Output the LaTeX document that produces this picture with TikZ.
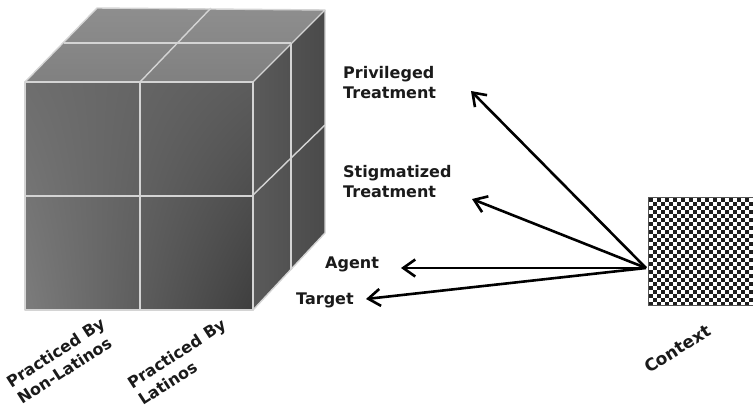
\documentclass[tikz,border=0pt]{standalone}
\usepackage{fontspec}
\setmainfont{DejaVu Sans}
\usetikzlibrary{arrows.meta,calc,shadings}
\definecolor{gridline}{HTML}{D4D4D4}
\definecolor{txt}{HTML}{1A1A1A}
\definecolor{chk}{HTML}{1E1E1E}
\definecolor{chkborder}{HTML}{555555}
\definecolor{fUL}{HTML}{6E6E6E}
\definecolor{fUR}{HTML}{5C5C5C}
\definecolor{fLL}{HTML}{7C7C7C}
\definecolor{fLR}{HTML}{3E3E3E}
\definecolor{tTop}{HTML}{8E8E8E}
\definecolor{tBot}{HTML}{808080}
\definecolor{rL}{HTML}{5A5A5A}
\definecolor{rR}{HTML}{4A4A4A}
\begin{document}
\begin{tikzpicture}[x=1pt,y=-1pt,
  lbl/.style={font=\bfseries\fontsize{16}{20}\selectfont, text=txt, inner sep=0pt, align=left},
  arr/.style={line width=2.6pt, -{Straight Barb[length=12pt,width=17pt]}},
  gridl/.style={draw=gridline, line width=1.4pt, line join=round}]
\useasboundingbox (0,0) rectangle (753,410);

% cube faces
\shade[upper left=fUL, upper right=fUR, lower left=fLL, lower right=fLR]
  (25,82) rectangle (253,310);
\shade[top color=tTop, bottom color=tBot]
  (25,82) -- (97,8) -- (325,10) -- (253,82) -- cycle;
\shade[left color=rL, right color=rR]
  (253,82) -- (325,10) -- (325,233) -- (253,310) -- cycle;

% cube edges and dividing lines
\draw[gridl] (25,82) rectangle (253,310);
\draw[gridl] (25,82) -- (97,8) -- (325,10) -- (253,82);
\draw[gridl] (325,10) -- (325,233) -- (253,310);
\draw[gridl] (140,82) -- (140,310);
\draw[gridl] (25,196) -- (253,196);
\draw[gridl] (140,82) -- (211,8);
\draw[gridl] (64,43) -- (291,43);
\draw[gridl] (291,43) -- (291,270);
\draw[gridl] (253,195) -- (325,125);

% labels (base anchor = baseline of the last line)
\node[lbl, anchor=base west] (priv) at (343,98) {Privileged\\Treatment};
\node[lbl, anchor=base west] (stig) at (343,197) {Stigmatized\\Treatment};
\node[lbl, anchor=base west] (agent) at (325,268) {Agent};
\node[lbl, anchor=base west] (target) at (296,304) {Target};
\node[lbl, anchor=base west, rotate=33] (nonlat) at (22,405) {Practiced By\\Non-Latinos};
\node[lbl, anchor=base west, rotate=33] (lat) at (143,406) {Practiced By\\Latinos};
\node[lbl, anchor=base west, rotate=32, font=\bfseries\fontsize{17}{20}\selectfont] (ctxlbl) at (649,374) {Context};

% context box
\node[draw=chkborder, line width=1.2pt, fill=white, minimum width=112pt, minimum height=108pt,
      anchor=north west, inner sep=0pt,
      path picture={
        \foreach \i in {0,...,28}{
          \pgfmathtruncatemacro{\off}{mod(\i,2)*4}
          \foreach \j in {0,...,14}{
            \fill[chk] ($(path picture bounding box.north west)+({4*\i},{\off+8*\j})$) rectangle ++(4,4);
          }
        }
      }] (ctx) at (648,197) {};

% arrows
\coordinate (hub) at (646,268);
\coordinate (tipP) at (471,91);
\coordinate (tipS) at (472,199);
\coordinate (tipA) at (401,268);
\coordinate (tipT) at (366,299);
\draw[arr] (hub) -- (tipP);
\draw[arr] (hub) -- (tipS);
\draw[arr] (hub) -- (tipA);
\draw[arr] (hub) -- (tipT);
\end{tikzpicture}
\end{document}
